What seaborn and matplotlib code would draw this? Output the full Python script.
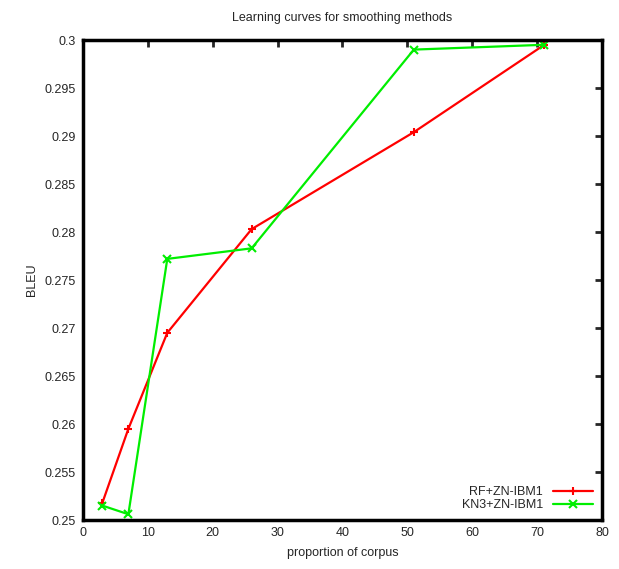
import pandas as pd
import matplotlib.pyplot as plt
import seaborn as sns

sns.set_style("white")
plt.rcParams["font.family"] = ["Liberation Sans", "DejaVu Sans"]

# ------------------------------------
# Data
# ------------------------------------
proportion = [3, 7, 13, 26, 51, 71]
rf_zn_ibm1 = [0.2518, 0.2595, 0.2695, 0.2803, 0.2904, 0.29945]
kn3_zn_ibm1 = [0.2515, 0.2506, 0.2772, 0.2783, 0.2990, 0.2995]

df = pd.DataFrame({
    "proportion": proportion * 2,
    "BLEU": rf_zn_ibm1 + kn3_zn_ibm1,
    "method": ["RF+ZN-IBM1"] * len(proportion) + ["KN3+ZN-IBM1"] * len(proportion),
})

fig = plt.figure(figsize=(6.19, 5.69), dpi=100)
ax = fig.add_axes([0.134, 0.0861, 0.8385, 0.8436])

sns.lineplot(
    data=df, x="proportion", y="BLEU", hue="method", style="method",
    palette={"RF+ZN-IBM1": "#ff0000", "KN3+ZN-IBM1": "#00ee00"},
    markers={"RF+ZN-IBM1": "+", "KN3+ZN-IBM1": "x"},
    dashes=False, sort=False, linewidth=1.6, markersize=6,
    markeredgewidth=1.5, ax=ax,
)

# seaborn draws marker edges white; give them the line colour
for line in ax.lines:
    line.set_markeredgecolor(line.get_color())

ax.set_xlim(0, 80)
ax.set_ylim(0.25, 0.3)
ax.set_xticks(range(0, 81, 10))
ax.set_yticks([0.25 + 0.005 * i for i in range(11)])
ax.set_yticklabels(["%g" % round(0.25 + 0.005 * i, 3) for i in range(11)])

for s in ax.spines.values():
    s.set_linewidth(2.5)
    s.set_color("black")

ax.tick_params(direction="in", length=5, width=2, top=True, right=True,
               labelsize=9, pad=5)

ax.set_title("Learning curves for smoothing methods", fontsize=9, pad=14)
ax.set_xlabel("proportion of corpus", fontsize=9, labelpad=6)
ax.set_ylabel("BLEU", fontsize=9, labelpad=5)

leg = ax.legend(loc="lower right", frameon=False, markerfirst=False,
                fontsize=9, handlelength=3.2, borderaxespad=0.3,
                labelspacing=0.1)
for h in leg.legend_handles:
    h.set_markeredgecolor(h.get_color())
for t in leg.get_texts():
    t.set_ha("right")

plt.savefig("out.png", dpi=100)
plt.close()
